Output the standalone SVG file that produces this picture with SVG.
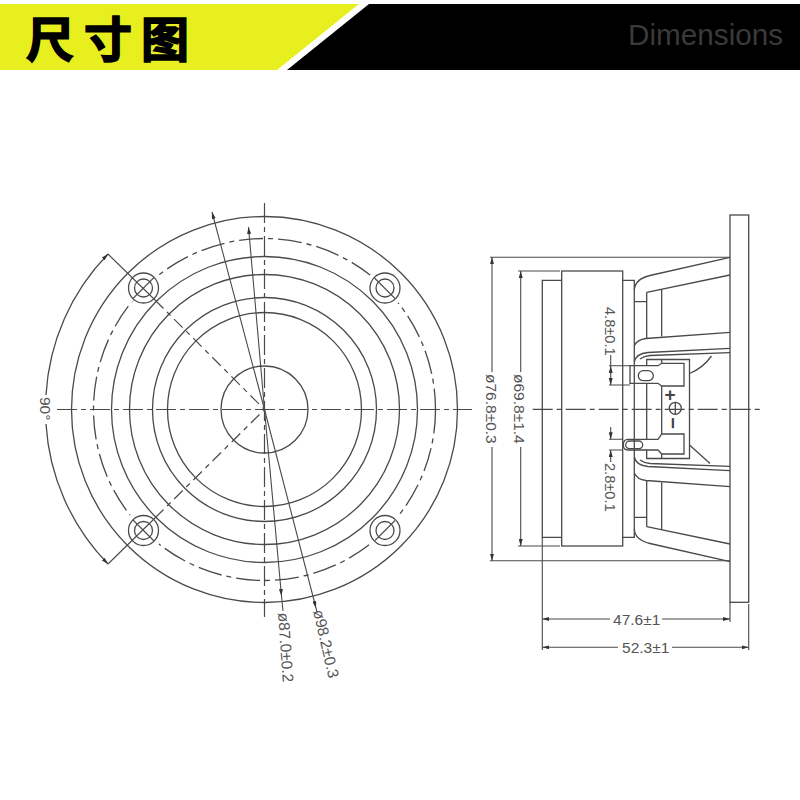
<svg xmlns="http://www.w3.org/2000/svg" width="800" height="800" viewBox="0 0 800 800">
<style>
.l{fill:none;stroke:#4a4a4a;stroke-width:1.3}
.d{fill:none;stroke:#4a4a4a;stroke-width:1.1}
.cl{fill:none;stroke:#4a4a4a;stroke-width:1.2;stroke-dasharray:20 4 5 4}
.pcd{fill:none;stroke:#4a4a4a;stroke-width:1.3;stroke-dasharray:24 5 5 5}
.dg{fill:none;stroke:#4a4a4a;stroke-width:1.2;stroke-dasharray:12 5 5 5}
.ar{fill:none;stroke:#4a4a4a;stroke-width:1.1;marker-end:url(#a)}
.ab{fill:none;stroke:#4a4a4a;stroke-width:1.1;marker-start:url(#a);marker-end:url(#a)}
.ae{fill:none;stroke:#4a4a4a;stroke-width:1.3;marker-end:url(#a)}
.t{font-family:"Liberation Sans",Arial,sans-serif;font-size:15.5px;fill:#555}
.s{font-size:14.6px}
.h{font-family:"Noto Sans CJK SC",sans-serif;font-weight:700;font-size:48px;fill:#000;stroke:#000;stroke-width:1.6}
.hole{fill:#fff;stroke:#4a4a4a;stroke-width:1.3}
.halo{fill:none;stroke:#fff;stroke-width:4}
</style>
<defs>
<marker id="a" viewBox="0 0 7 4" refX="7" refY="2" markerWidth="7" markerHeight="4" markerUnits="userSpaceOnUse" orient="auto-start-reverse"><path d="M0 0L7 2L0 4z" fill="#333"/></marker>
</defs>
<rect width="800" height="800" fill="#fff"/>
<g id="header">
<polygon points="0,4 359,4 277,70 0,70" fill="#e8ef1f"/>
<polygon points="369,4 800,4 800,70 287,70" fill="#000"/>
<text class="h" x="26" y="57">尺</text>
<text class="h" x="84" y="57">寸</text>
<text class="h" x="141" y="57">图</text>
<text x="628" y="45" font-family="Liberation Sans,Arial,sans-serif" font-size="29.7" fill="#3a3a3a">Dimensions</text>
</g>
<g id="front-view">
<circle class="l" cx="264.5" cy="409.5" r="193"/>
<circle class="pcd" cx="264.5" cy="409.5" r="171"/>
<circle class="l" cx="264.500" cy="409.5" r="153"/>
<circle class="l" cx="264.5" cy="409.5" r="135"/>
<circle class="l" cx="264.5" cy="409.5" r="112"/>
<circle class="l" cx="264.5" cy="409.5" r="97"/>
<circle class="l" cx="264.5" cy="409.5" r="43.5"/>
</g>
<g id="hole-tl"><path class="halo" d="M129 302L158 273"/><circle class="hole" cx="143.5" cy="288" r="15"/><circle class="l" cx="143.5" cy="288" r="9"/><path class="d" d="M133 298.500L154 277.500"/></g>
<g id="hole-tr"><path class="halo" d="M371 274L399 302"/><circle class="hole" cx="385" cy="288" r="15"/><circle class="l" cx="385" cy="288" r="9"/><path class="d" d="M374.500 278L395 298.500"/></g>
<g id="hole-bl"><path class="halo" d="M129 516L158 545"/><circle class="hole" cx="143.5" cy="530.5" r="15"/><circle class="l" cx="143.5" cy="530.500" r="9"/><path class="d" d="M133 520L154 541"/></g>
<g id="hole-br"><path class="halo" d="M371 545L399 516"/><circle class="hole" cx="385" cy="530.5" r="15"/><circle class="l" cx="385" cy="530.5" r="9"/><path class="d" d="M375 540.500L395 520.500"/></g>
<g id="side-view">
<rect class="l" x="730" y="215" width="18.7" height="387.3"/>
<rect class="l" x="561.7" y="271" width="61" height="275"/>
<path class="l" d="M561.7 280.3H542.3V537.3H561.7M622.7 280.3H634.3V537.3H622.7"/>
<path class="l" d="M634.3 290Q635 279 650 275.5L730 257.3M646.7 292.3L730 275M634.3 301.7H646.7M646.7 292.3V338M661.7 289V336.5"/>
<path class="l" d="M634.3 529Q635 540 650 543.5L730 561.7M646.7 526.7L730 544M634.3 517.3H646.7M646.7 526.7V481M661.7 530V482.5"/>
<path class="l" d="M634.3 346Q637 339.5 646 338.5L730 332.3M634.3 362Q636 353.5 648 352.5L730 348.3M640 359Q644 356 650 355.5L730 352.7"/>
<path class="l" d="M634.3 473Q637 479.5 646 480.5L730 486.7M634.3 457Q636 465.5 648 466.5L730 470.7M640 460Q644 463 650 463.5L730 466.3"/>
<path class="l" d="M646.7 366V359.5H689.5V458.5H646.7V450M646.7 384V439M661.7 363.5V359.5M661.7 386V434M661.7 454V458.5"/>
<path class="l" d="M689.5 373.5Q703 368 711.5 356M689.5 445L710 463.5"/>
<path class="l" d="M630 365.7H658L661.7 363.3H684V386H661.700L658 383.3H630Z"/>
<rect class="l" x="638.3" y="370.7" width="15" height="10" rx="5"/>
<path class="l" d="M658 439.3L661.7 434H684V454H661.7L658 450H628Q623.3 450 623.3 445Q623.3 439.3 628 439.3Z"/>
<rect class="l" x="625.7" y="441" width="17" height="7.6" rx="3.8"/>
<circle class="l" cx="675.3" cy="408.3" r="6"/>
<path class="l" d="M675.3 402.3V414.3"/>
<text x="670" y="401" text-anchor="middle" font-family="Liberation Sans,Arial,sans-serif" font-size="19" font-weight="700" fill="#444">+</text>
<text transform="translate(665.5 423) rotate(90)" text-anchor="middle" font-family="Liberation Sans,Arial,sans-serif" font-size="20" font-weight="700" fill="#444">−</text>
</g>
<g id="connectors">
<path class="cl" d="M264.5 203V617"/>
<path class="cl" d="M57 409.5H472"/>
<path class="cl" d="M532.7 409.3H762.7"/>
<path class="d" d="M108 254L155 300M108 564L155 518"/>
<path class="dg" d="M155 300L264.5 409.5L155 518"/>
<path class="ae" d="M46 395A220 220 0 0 1 108 254"/>
<path class="ae" d="M46 424A220 220 0 0 0 108 564"/>
<path class="ab" d="M212 212L264.5 409.5L316 608"/>
<path class="ab" d="M248.500 227L264.500 409.500L281.500 596"/>
<path class="d" d="M316 608L317 612M281.500 596L283 611"/>
<path class="d" d="M490 257.300H730M490 560.700H730M518 271H560M518 546H560"/>
<path class="ar" d="M492 372V257.300"/>
<path class="ar" d="M492 447V560.700"/>
<path class="ar" d="M520.700 372V271"/>
<path class="ar" d="M520.700 447V546"/>
<path class="d" d="M542.300 537.300V650M730 602.300V622M748.700 604V650"/>
<path class="ar" d="M610 619H542.300"/>
<path class="ar" d="M662 619H730"/>
<path class="ar" d="M618 647.300H542.300"/>
<path class="ar" d="M672 647.300H748.700"/>
<path class="d" d="M609 365.700H630M609 385H630M609 439.300H623M609 450H623M610.700 355V365.700"/>
<path class="ab" d="M610.700 366V385"/>
<path class="ar" d="M610.700 427V439.300"/>
<path class="ar" d="M610.700 462V450"/>
</g>
<g id="labels">
<text class="t" transform="translate(40 397) rotate(90)">90°</text>
<text class="t" transform="translate(278 613) rotate(86)">ø87.0±0.2</text>
<text class="t" transform="translate(313 611) rotate(77)">ø98.2±0.3</text>
<text class="t" transform="translate(486 374) rotate(90)">ø76.8±0.3</text>
<text class="t" transform="translate(514 374) rotate(90)">ø69.8±1.4</text>
<text class="t s" transform="translate(605 307) rotate(90)">4.8±0.1</text>
<text class="t s" transform="translate(605 463) rotate(90)">2.8±0.1</text>
<text class="t" x="636.700" y="624.500" text-anchor="middle">47.6±1</text>
<text class="t" x="645.700" y="652.800" text-anchor="middle">52.3±1</text>
</g>
</svg>
